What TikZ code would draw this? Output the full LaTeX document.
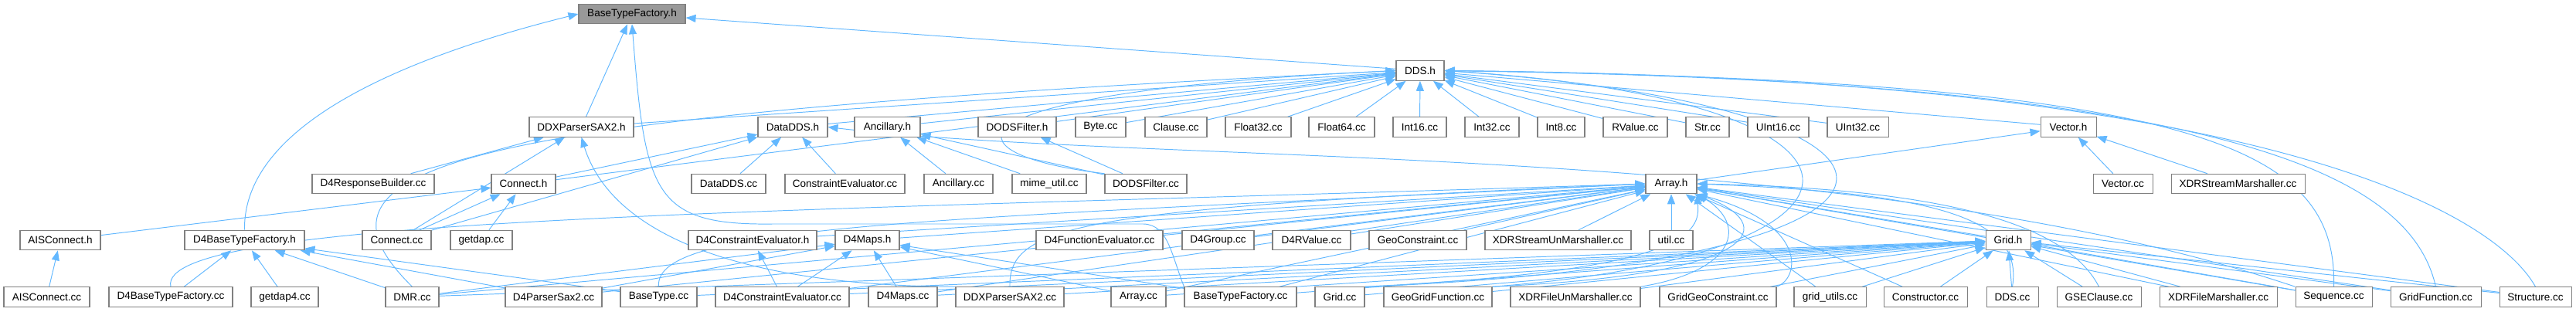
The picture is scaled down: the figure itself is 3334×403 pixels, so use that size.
\documentclass[tikz,border=0pt]{standalone}
\usepackage{fontspec}
\setmainfont{Liberation Sans}
\usetikzlibrary{arrows.meta,backgrounds}
\definecolor{DepEdge}{HTML}{63B8FF}
\definecolor{FileLine}{HTML}{808080}
\definecolor{FileSel}{HTML}{999999}

\begin{document}
\begin{tikzpicture}[x=0.02cm,y=-0.02cm,
  every node/.style={draw=FileLine,fill=white,line width=0.6pt,minimum height=0.51cm,inner sep=0pt,font=\fontsize{7.7}{9}\selectfont},
  inc/.style={draw=DepEdge,line width=0.55pt,{Triangle[length=0.26cm,width=0.2cm]}-}]
  \useasboundingbox (0,0) rectangle (3334,403);

  \node[fill=FileSel,minimum width=138*0.02cm] (btfh) at (818,18) {BaseTypeFactory.h};
  \node[minimum width=62*0.02cm] (ddsh) at (1838,91.5) {DDS.h};

  \foreach \nm/\lab/\cx/\w in {ddxh/DDXParserSAX2.h/752.5/135, dataddsh/DataDDS.h/1026/90, ancillaryh/Ancillary.h/1148.5/85,
      dodsfilterh/DODSFilter.h/1316.5/101, bytecc/Byte.cc/1424.5/65, clausecc/Clause.cc/1522/80, float32cc/Float32.cc/1628.5/85,
      float64cc/Float64.cc/1736.5/85, int16cc/Int16.cc/1837.5/69, int32cc/Int32.cc/1931/70, int8cc/Int8.cc/2020.5/61,
      rvaluecc/RValue.cc/2116.5/83, strcc/Str.cc/2210/56, uint16cc/UInt16.cc/2301.5/79, uint32cc/UInt32.cc/2404.5/79,
      vectorh/Vector.h/2677/72}{
    \node[minimum width=\w*0.02cm] (\nm) at (\cx,164.5) {\lab};
  }
  \foreach \nm/\lab/\cx/\w in {d4respcc/D4ResponseBuilder.cc/483/158, connecth/Connect.h/677.5/83, dataddscc/DataDDS.cc/943/96,
      ceval/ConstraintEvaluator.cc/1093.5/155, ancillarycc/Ancillary.cc/1240.5/89, mimecc/mime\_util.cc/1358/96,
      dodsfiltercc/DODSFilter.cc/1483/106, arrayh/Array.h/2163/66, vectorcc/Vector.cc/2747.5/77,
      xdrsmcc/XDRStreamMarshaller.cc/2896.5/173}{
    \node[minimum width=\w*0.02cm] (\nm) at (\cx,238) {\lab};
  }
  \foreach \nm/\lab/\cx/\w in {aish/AISConnect.h/78/104, d4btfh/D4BaseTypeFactory.h/316.5/155, connectcc/Connect.cc/513.5/89,
      getdapcc/getdap.cc/623/80, d4ceh/D4ConstraintEvaluator.h/974/166, d4mapsh/D4Maps.h/1122.5/83,
      d4fecc/D4FunctionEvaluator.cc/1423/164, d4groupcc/D4Group.cc/1576.5/93, d4rvcc/D4RValue.cc/1697.5/101,
      geoccc/GeoConstraint.cc/1835/126, xdrsumcc/XDRStreamUnMarshaller.cc/2016.5/189, utilcc/util.cc/2163/56,
      gridh/Grid.h/2599/58}{
    \node[minimum width=\w*0.02cm] (\nm) at (\cx,311) {\lab};
  }
  \foreach \nm/\lab/\cx/\w in {aiscc/AISConnect.cc/60.5/111, d4btfcc/D4BaseTypeFactory.cc/221/160, getdap4cc/getdap4.cc/368.5/87,
      dmrcc/DMR.cc/533.5/69, d4psaxcc/D4ParserSax2.cc/716.5/125, basetypecc/BaseType.cc/852.5/99,
      d4cecc/D4ConstraintEvaluator.cc/1012.5/173, d4mapscc/D4Maps.cc/1168.5/89, ddxcc/DDXParserSAX2.cc/1307/140,
      arraycc/Array.cc/1473.5/71, btfcc/BaseTypeFactory.cc/1605.5/145, gridcc/Grid.cc/1734/64,
      ggfcc/GeoGridFunction.cc/1861/140, xdrfumcc/XDRFileUnMarshaller.cc/2039/168, ggccc/GridGeoConstraint.cc/2223.5/151,
      gridutilcc/grid\_utils.cc/2368.5/93, constrcc/Constructor.cc/2492/108, ddscc/DDS.cc/2604.5/67,
      gsecc/GSEClause.cc/2716.5/109, xdrfmcc/XDRFileMarshaller.cc/2871/152, seqcc/Sequence.cc/3020.5/99,
      gridfcc/GridFunction.cc/3152.5/117, structcc/Structure.cc/3281.5/93}{
    \node[minimum width=\w*0.02cm] (\nm) at (\cx,384.5) {\lab};
  }

  \begin{pgfonlayer}{background}
  \foreach \h/\s in {btfh/ddxh, btfh/ddsh,
      ddsh/ddxh, ddsh/dataddsh, ddsh/ancillaryh, ddsh/dodsfilterh, ddsh/bytecc, ddsh/clausecc, ddsh/float32cc,
      ddsh/float64cc, ddsh/int16cc, ddsh/int32cc, ddsh/int8cc, ddsh/rvaluecc, ddsh/strcc, ddsh/uint16cc,
      ddsh/uint32cc, ddsh/vectorh, ddsh/connecth,
      ddxh/d4respcc, ddxh/connectcc,
      dataddsh/connecth, dataddsh/connectcc, dataddsh/dataddscc, dataddsh/ceval,
      ancillaryh/ancillarycc, ancillaryh/mimecc, ancillaryh/dodsfiltercc, dodsfilterh/dodsfiltercc,
      connecth/aish, connecth/connectcc, connecth/getdapcc,
      vectorh/vectorcc, vectorh/xdrsmcc, vectorh/arrayh, aish/aiscc,
      d4btfh/d4btfcc, d4btfh/getdap4cc, d4btfh/dmrcc, d4btfh/d4psaxcc, d4btfh/basetypecc,
      d4ceh/d4cecc,
      d4mapsh/d4mapscc, d4mapsh/d4psaxcc, d4mapsh/d4cecc, d4mapsh/arraycc, d4mapsh/btfcc, d4mapsh/dmrcc,
      arrayh/d4ceh, arrayh/d4mapsh, arrayh/d4fecc, arrayh/d4groupcc, arrayh/d4rvcc, arrayh/geoccc,
      arrayh/xdrsumcc, arrayh/utilcc, arrayh/gridh, arrayh/d4psaxcc, arrayh/d4mapscc, arrayh/arraycc,
      arrayh/btfcc, arrayh/xdrfmcc, arrayh/seqcc, arrayh/gridfcc, arrayh/structcc, arrayh/constrcc,
      arrayh/dmrcc, arrayh/d4cecc, arrayh/gridutilcc,
      gridh/gridcc, gridh/ggfcc, gridh/xdrfumcc, gridh/ggccc, gridh/gridutilcc, gridh/constrcc, gridh/ddscc,
      gridh/gsecc, gridh/xdrfmcc, gridh/seqcc, gridh/gridfcc, gridh/structcc, gridh/btfcc, gridh/arraycc,
      gridh/ddxcc, gridh/basetypecc, gridh/dmrcc, gridh/d4cecc, gridh/d4mapscc}{
    \draw[inc] (\h) -- (\s);
  }
  \draw[inc] (btfh.west) .. controls (560,65) and (314,150) .. (d4btfh.north);
  \draw[inc] (btfh.south) .. controls (835,250) and (845,292) .. (1000,290) -- (1480,290)
    .. controls (1512,291) and (1516,330) .. (btfcc.north west);
  \draw[inc] (ddsh.west) .. controls (1200,120) and (1220,200) .. (dodsfiltercc.north west);
  \draw[inc] (ddsh.west) .. controls (600,150) and (370,210) .. (dmrcc.north);
  \draw[inc] (ddsh.east) .. controls (2850,105) and (3025,190) .. (seqcc.north);
  \draw[inc] (ddsh.east) .. controls (2900,105) and (3120,230) .. (gridfcc.north);
  \draw[inc] (ddsh.east) .. controls (2950,100) and (3230,280) .. (structcc.north);
  \draw[inc] (ddsh.east) .. controls (2480,130) and (2470,330) .. (ggfcc.north east);
  \draw[inc] (ddsh.east) .. controls (2560,140) and (2560,340) .. (gridcc.north east);
  \draw[inc] (ddxh.south) .. controls (790,300) and (950,370) .. (ddxcc.north west);
  \draw[inc] (dataddsh.east) .. controls (1500,215) and (2400,180) .. (seqcc.north west);
  \draw[inc] (arrayh.east) .. controls (2500,250) and (2620,280) .. (ddscc.north);
  \draw[inc] (arrayh.east) .. controls (2550,245) and (2680,300) .. (gsecc.north);
  \draw[inc] (arrayh.west) .. controls (1000,275) and (200,280) .. (d4btfcc.north);
  \draw[inc] (arrayh.west) .. controls (1200,285) and (845,290) .. (basetypecc.north);
  \draw[inc] (arrayh.west) .. controls (1400,270) and (1305,290) .. (ddxcc.north);
  \draw[inc] (arrayh.south east) .. controls (2260,290) and (2250,350) .. (xdrfumcc.north east);
  \draw[inc] (arrayh.south east) .. controls (2300,290) and (2290,355) .. (ggfcc.north east);
  \draw[inc] (arrayh.south east) .. controls (2340,290) and (2330,360) .. (ggccc.north east);
  \draw[inc] (arrayh.south east) .. controls (2200,300) and (2190,350) .. (gridcc.north east);
  \end{pgfonlayer}
\end{tikzpicture}
\end{document}
